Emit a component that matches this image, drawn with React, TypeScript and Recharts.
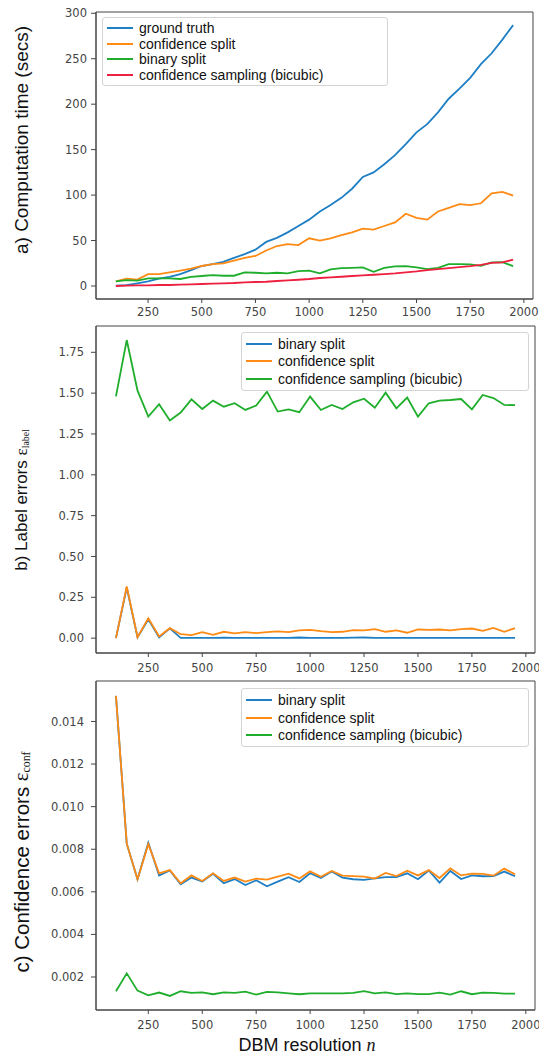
import { Legend, Line, LineChart, ReferenceArea, XAxis, YAxis } from "recharts"

// DBM resolution n
const resolution = [
  100, 150, 200, 250, 300, 350, 400, 450, 500, 550, 600, 650, 700, 750, 800, 850, 900, 950, 1000,
  1050, 1100, 1150, 1200, 1250, 1300, 1350, 1400, 1450, 1500, 1550, 1600, 1650, 1700, 1750, 1800,
  1850, 1900, 1950,
]

// a) computation time (secs)
const timeGroundTruth = [
  0.4, 1, 3, 5, 8, 10, 13, 17.5, 22, 24, 26.6, 31, 35, 40, 48.5, 53, 59, 66, 73, 82, 89, 97, 107,
  120, 125, 134, 144, 156, 169, 178, 191, 206, 217, 229, 244, 256, 271, 287,
]
const timeConfidenceSplit = [
  5, 8, 7, 13, 13, 15, 17, 19, 22, 24, 25, 28, 31, 33, 39, 44, 46, 45, 52.5, 50, 52.5, 56, 59, 63,
  62, 66, 70, 79.5, 75, 73, 82, 86, 90, 89, 91, 102, 103.5, 99.5,
]
const timeBinarySplit = [
  5, 6.5, 6, 8.4, 8.4, 8.4, 7.7, 10, 11, 12, 11.3, 11.3, 15, 14.6, 13.9, 14.6, 13.9, 16.4, 17, 13.9,
  18.2, 19.7, 20, 20.4, 15.7, 20, 21.5, 21.9, 20.4, 18.6, 20, 24, 24, 23.7, 22.2, 25.9, 26.3, 21.9,
]
const timeSampling = [
  0, 0.4, 0.7, 0.7, 1.1, 1.1, 1.5, 1.8, 2.2, 2.6, 2.9, 3.3, 4, 4.4, 4.7, 5.5, 6.2, 6.9, 7.7, 8.8,
  9.5, 10.2, 11, 11.7, 12.4, 13.1, 13.9, 15, 16, 17.5, 18.6, 19.7, 20.8, 21.9, 23.3, 25.5, 25.9, 29,
]

// b) label errors
const labelBinarySplit = [
  0, 0.31, 0.005, 0.115, 0.005, 0.06, 0.002, 0.001, 0.002, 0.001, 0.003, 0.002, 0.002, 0.002, 0.002,
  0.001, 0.001, 0.004, 0.002, 0.001, 0.001, 0.002, 0.003, 0.004, 0.001, 0.001, 0.001, 0.001, 0.001,
  0.001, 0.002, 0.001, 0.001, 0.001, 0.001, 0.001, 0.001, 0.001,
]
const labelConfidenceSplit = [
  0, 0.316, 0.006, 0.122, 0.01, 0.061, 0.024, 0.018, 0.037, 0.02, 0.039, 0.029, 0.037, 0.031, 0.037,
  0.041, 0.037, 0.047, 0.051, 0.043, 0.037, 0.039, 0.049, 0.047, 0.055, 0.039, 0.047, 0.033, 0.053,
  0.051, 0.053, 0.047, 0.055, 0.059, 0.045, 0.063, 0.039, 0.061,
]
const labelSampling = [
  1.48, 1.825, 1.515, 1.356, 1.432, 1.332, 1.381, 1.462, 1.403, 1.454, 1.417, 1.438, 1.397, 1.424,
  1.509, 1.387, 1.401, 1.383, 1.479, 1.397, 1.428, 1.403, 1.444, 1.466, 1.411, 1.503, 1.407, 1.473,
  1.356, 1.438, 1.454, 1.458, 1.464, 1.401, 1.489, 1.47, 1.428, 1.426,
]

// c) confidence errors
const confBinarySplit = [
  0.0152, 0.00826, 0.00659, 0.0083, 0.00677, 0.007, 0.00635, 0.00667, 0.00648, 0.00685, 0.0064,
  0.0066, 0.00632, 0.00654, 0.00626, 0.00648, 0.00669, 0.00646, 0.00687, 0.00665, 0.00695, 0.00667,
  0.00659, 0.00656, 0.00663, 0.00669, 0.00669, 0.00687, 0.00659, 0.007, 0.00643, 0.00698, 0.0066,
  0.00677, 0.00673, 0.00674, 0.00695, 0.00673,
]
const confConfidenceSplit = [
  0.0152, 0.00826, 0.00659, 0.00824, 0.00687, 0.00702, 0.0064, 0.00677, 0.00651, 0.00687, 0.00651,
  0.00667, 0.00648, 0.00662, 0.00657, 0.00671, 0.00685, 0.00663, 0.00696, 0.00671, 0.00698, 0.00676,
  0.00674, 0.00671, 0.00662, 0.00689, 0.00674, 0.00699, 0.00677, 0.00702, 0.00665, 0.0071, 0.00677,
  0.00685, 0.00684, 0.00676, 0.00709, 0.00682,
]
const confSampling = [
  0.00133, 0.00217, 0.00136, 0.00114, 0.00127, 0.00111, 0.00133, 0.00125, 0.00128, 0.00119, 0.00128,
  0.00125, 0.00131, 0.00117, 0.0013, 0.00128, 0.00123, 0.00119, 0.00123, 0.00123, 0.00123, 0.00123,
  0.00125, 0.00134, 0.00123, 0.00128, 0.0012, 0.00123, 0.0012, 0.0012, 0.00127, 0.00117, 0.00133,
  0.00119, 0.00127, 0.00125, 0.00122, 0.00122,
]

const xTicks = [250, 500, 750, 1000, 1250, 1500, 1750, 2000]
const timeTicks = [0, 50, 100, 150, 200, 250, 300]
const labelTicks = [0, 0.25, 0.5, 0.75, 1, 1.25, 1.5, 1.75]
const confTicks = [0.002, 0.004, 0.006, 0.008, 0.01, 0.012, 0.014]

const timeLegendOrder = ["ground truth", "confidence split", "binary split", "confidence sampling (bicubic)"]
const errorLegendOrder = ["binary split", "confidence split", "confidence sampling (bicubic)"]

const BLUE = "#1f7fc4"
const ORANGE = "#ff8a14"
const GREEN = "#1fae2c"
const RED = "#ee2040"
const AXIS = "#444"

const X_DOMAIN: [number, number] = [7.5, 2042.5]
const TIME_DOMAIN: [number, number] = [-14.3, 301.4]
const LABEL_DOMAIN: [number, number] = [-0.091, 1.911]
const CONF_DOMAIN: [number, number] = [0.00045, 0.0159]

const tickStyle = { fontSize: 11.5, fill: "#444", fontFamily: "DejaVu Sans, sans-serif" }

const timeRows = resolution.map((n, i) => ({
  n,
  groundTruth: timeGroundTruth[i],
  confidenceSplit: timeConfidenceSplit[i],
  binarySplit: timeBinarySplit[i],
  sampling: timeSampling[i],
}))
const labelRows = resolution.map((n, i) => ({
  n,
  binarySplit: labelBinarySplit[i],
  confidenceSplit: labelConfidenceSplit[i],
  sampling: labelSampling[i],
}))
const confRows = resolution.map((n, i) => ({
  n,
  binarySplit: confBinarySplit[i],
  confidenceSplit: confConfidenceSplit[i],
  sampling: confSampling[i],
}))

function LegendBox({
  payload,
  order,
  rowHeight,
  width,
}: {
  payload?: any[]
  order: string[]
  rowHeight: number
  width: number
}) {
  const items = [...(payload ?? [])].sort((a, b) => order.indexOf(a.value) - order.indexOf(b.value))
  return (
    <div
      style={{
        boxSizing: "border-box",
        width,
        minWidth: width,
        background: "rgba(255,255,255,0.85)",
        border: "1px solid #d4d4d4",
        borderRadius: 3,
        padding: "2px 4px",
        fontFamily: "Liberation Sans, Arial, sans-serif",
        fontSize: 14,
        color: "#111",
        lineHeight: 1,
        textAlign: "left",
      }}
    >
      {items.map((entry) => (
        <div key={entry.value} style={{ display: "flex", alignItems: "center", height: rowHeight }}>
          <span
            style={{
              display: "inline-block",
              width: 26,
              height: 0,
              borderTop: `2px solid ${entry.color}`,
              marginRight: 6,
            }}
          />
          <span>{entry.value}</span>
        </div>
      ))}
    </div>
  )
}

function YTitle({
  cx,
  cy,
  size,
  main,
  sub,
}: {
  cx: number
  cy: number
  size: number
  main: string
  sub?: string
}) {
  return (
    <text
      transform={`translate(${cx},${cy}) rotate(-90)`}
      textAnchor="middle"
      dominantBaseline="central"
      fontFamily="Liberation Sans, Arial, sans-serif"
      fontSize={size}
      fill="#111"
    >
      {main}
      {sub && (
        <>
          <tspan fontFamily="Liberation Serif, serif">ε</tspan>
          <tspan fontFamily="Liberation Serif, serif" fontSize={size * 0.58} dy={size * 0.22}>
            {sub}
          </tspan>
        </>
      )}
    </text>
  )
}

function XTitle({ cx, cy }: { cx: number; cy: number }) {
  return (
    <text
      x={cx}
      y={cy}
      textAnchor="middle"
      dominantBaseline="central"
      fontFamily="Liberation Sans, Arial, sans-serif"
      fontSize={18}
      fill="#111"
    >
      DBM resolution{" "}
      <tspan fontFamily="Liberation Serif, serif" fontStyle="italic">
        n
      </tspan>
    </text>
  )
}

export default function App() {
  return (
    <div style={{ position: "absolute", left: 0, top: 0, width: 539, height: 1055, background: "#fff" }}>
      <div style={{ position: "absolute", left: 0, top: 0 }}>
        <LineChart width={539} height={322} data={timeRows} margin={{ top: 12, right: 6, bottom: 0, left: 0 }}>
          <XAxis
            dataKey="n"
            type="number"
            domain={X_DOMAIN}
            ticks={xTicks}
            allowDataOverflow
            height={23}
            tickSize={4}
            tickMargin={5}
            tick={tickStyle}
            stroke={AXIS}
          />
          <YAxis
            type="number"
            domain={TIME_DOMAIN}
            ticks={timeTicks}
            allowDataOverflow
            width={96}
            tickSize={5}
            tickMargin={4}
            tick={tickStyle}
            stroke={AXIS}
            label={<YTitle cx={21} cy={140} size={19} main="a) Computation time (secs)" />}
          />
          <ReferenceArea
            x1={X_DOMAIN[0]}
            x2={X_DOMAIN[1]}
            y1={TIME_DOMAIN[0]}
            y2={TIME_DOMAIN[1]}
            fill="none"
            stroke={AXIS}
            strokeWidth={1}
          />
          <Line dataKey="groundTruth" name="ground truth" stroke={BLUE} strokeWidth={1.8} dot={false} activeDot={false} isAnimationActive={false} />
          <Line dataKey="confidenceSplit" name="confidence split" stroke={ORANGE} strokeWidth={1.8} dot={false} activeDot={false} isAnimationActive={false} />
          <Line dataKey="binarySplit" name="binary split" stroke={GREEN} strokeWidth={1.8} dot={false} activeDot={false} isAnimationActive={false} />
          <Line dataKey="sampling" name="confidence sampling (bicubic)" stroke={RED} strokeWidth={1.8} dot={false} activeDot={false} isAnimationActive={false} />
          <Legend
            layout="vertical"
            verticalAlign="middle"
            align="center"
            width={286}
            wrapperStyle={{ position: "absolute", left: 102, top: 17, width: 286, height: "auto" }}
            content={(props: any) => (
              <LegendBox payload={props.payload} order={timeLegendOrder} rowHeight={15.8} width={286} />
            )}
          />
        </LineChart>
      </div>

      <div style={{ position: "absolute", left: 0, top: 320 }}>
        <LineChart width={539} height={356} data={labelRows} margin={{ top: 6, right: 4, bottom: 0, left: 0 }}>
          <XAxis
            dataKey="n"
            type="number"
            domain={X_DOMAIN}
            ticks={xTicks}
            allowDataOverflow
            height={23}
            tickSize={4}
            tickMargin={6.5}
            tick={tickStyle}
            stroke={AXIS}
          />
          <YAxis
            type="number"
            domain={LABEL_DOMAIN}
            ticks={labelTicks}
            allowDataOverflow
            width={96}
            tickSize={5}
            tickMargin={7}
            tick={tickStyle}
            tickFormatter={(v: number) => v.toFixed(2)}
            stroke={AXIS}
            label={<YTitle cx={21} cy={180} size={17} main="b) Label errors " sub="label" />}
          />
          <ReferenceArea
            x1={X_DOMAIN[0]}
            x2={X_DOMAIN[1]}
            y1={LABEL_DOMAIN[0]}
            y2={LABEL_DOMAIN[1]}
            fill="none"
            stroke={AXIS}
            strokeWidth={1}
          />
          <Line dataKey="binarySplit" name="binary split" stroke={BLUE} strokeWidth={1.8} dot={false} activeDot={false} isAnimationActive={false} />
          <Line dataKey="confidenceSplit" name="confidence split" stroke={ORANGE} strokeWidth={1.8} dot={false} activeDot={false} isAnimationActive={false} />
          <Line dataKey="sampling" name="confidence sampling (bicubic)" stroke={GREEN} strokeWidth={1.8} dot={false} activeDot={false} isAnimationActive={false} />
          <Legend
            layout="vertical"
            verticalAlign="middle"
            align="center"
            width={288}
            wrapperStyle={{ position: "absolute", left: 241, top: 12, width: 288, height: "auto" }}
            content={(props: any) => (
              <LegendBox payload={props.payload} order={errorLegendOrder} rowHeight={17.6} width={288} />
            )}
          />
        </LineChart>
      </div>

      <div style={{ position: "absolute", left: 0, top: 676 }}>
        <LineChart width={539} height={379} data={confRows} margin={{ top: 5, right: 4, bottom: 0, left: 0 }}>
          <XAxis
            dataKey="n"
            type="number"
            domain={X_DOMAIN}
            ticks={xTicks}
            allowDataOverflow
            height={45}
            tickSize={4}
            tickMargin={6.5}
            tick={tickStyle}
            stroke={AXIS}
            label={<XTitle cx={307} cy={369} />}
          />
          <YAxis
            type="number"
            domain={CONF_DOMAIN}
            ticks={confTicks}
            allowDataOverflow
            width={96}
            tickSize={5}
            tickMargin={7}
            tick={tickStyle}
            tickFormatter={(v: number) => v.toFixed(3)}
            stroke={AXIS}
            label={<YTitle cx={21} cy={186} size={20.5} main="c) Confidence errors " sub="conf" />}
          />
          <ReferenceArea
            x1={X_DOMAIN[0]}
            x2={X_DOMAIN[1]}
            y1={CONF_DOMAIN[0]}
            y2={CONF_DOMAIN[1]}
            fill="none"
            stroke={AXIS}
            strokeWidth={1}
          />
          <Line dataKey="binarySplit" name="binary split" stroke={BLUE} strokeWidth={1.8} dot={false} activeDot={false} isAnimationActive={false} />
          <Line dataKey="confidenceSplit" name="confidence split" stroke={ORANGE} strokeWidth={1.8} dot={false} activeDot={false} isAnimationActive={false} />
          <Line dataKey="sampling" name="confidence sampling (bicubic)" stroke={GREEN} strokeWidth={1.8} dot={false} activeDot={false} isAnimationActive={false} />
          <Legend
            layout="vertical"
            verticalAlign="middle"
            align="center"
            width={288}
            wrapperStyle={{ position: "absolute", left: 241, top: 12, width: 288, height: "auto" }}
            content={(props: any) => (
              <LegendBox payload={props.payload} order={errorLegendOrder} rowHeight={17.8} width={288} />
            )}
          />
        </LineChart>
      </div>
    </div>
  )
}
